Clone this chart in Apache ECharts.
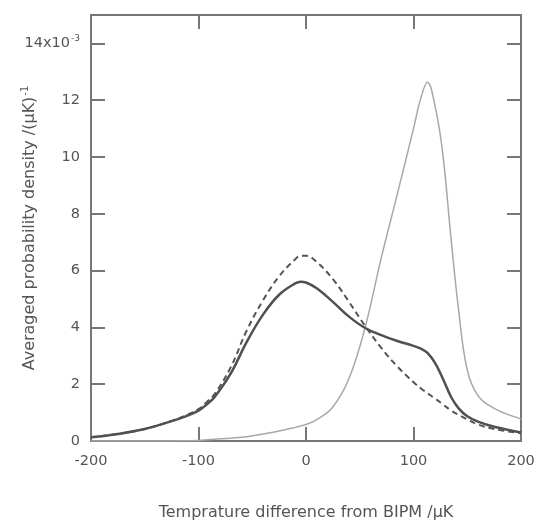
<!DOCTYPE html>
<html>
<head>
<meta charset="utf-8">
<script src="https://cdn.jsdelivr.net/npm/echarts@6/dist/echarts.min.js"></script>
<style>
  html, body { margin: 0; padding: 0; background: #fff; }
  #chart { width: 536px; height: 523px; }
</style>
</head>
<body>
<div id="chart"></div>
<script>
// temperature difference from BIPM (uK)
const tempX = [-200, -175, -150, -125, -112, -100, -92, -85, -70, -55, -40, -25, -10, -5, 0, 10, 25, 40, 55, 70, 85, 100, 107, 113, 120, 127, 135, 142, 150, 160, 175, 200];
// averaged density (x1e-3), solid dark curve
const solidY = [0.13, 0.25, 0.42, 0.7, 0.87, 1.07, 1.3, 1.55, 2.38, 3.5, 4.45, 5.15, 5.55, 5.61, 5.58, 5.38, 4.9, 4.38, 3.98, 3.73, 3.52, 3.35, 3.25, 3.1, 2.75, 2.22, 1.55, 1.15, 0.87, 0.68, 0.5, 0.3];
// dashed curve
const dashedY = [0.13, 0.25, 0.42, 0.71, 0.9, 1.12, 1.38, 1.65, 2.6, 3.9, 4.95, 5.8, 6.4, 6.52, 6.52, 6.3, 5.7, 4.9, 4.05, 3.28, 2.62, 2.07, 1.85, 1.68, 1.5, 1.3, 1.07, 0.92, 0.76, 0.58, 0.42, 0.28];
// thin light curve
const thinY = [0.0, 0.0, 0.0, 0.0, 0.01, 0.02, 0.04, 0.06, 0.1, 0.15, 0.25, 0.35, 0.48, 0.53, 0.58, 0.75, 1.2, 2.2, 4.0, 6.45, 8.7, 11.0, 12.1, 12.63, 11.8, 10.2, 7.1, 4.6, 2.5, 1.6, 1.15, 0.78];

const pairs = ys => tempX.map((x, i) => [x, ys[i]]);

const font = 'DejaVu Sans, sans-serif';
const axisColor = '#777';
const textColor = '#555';

const chart = echarts.init(document.getElementById('chart'));

chart.setOption({
  backgroundColor: '#fff',
  animation: false,
  grid: { left: 91, right: 15, top: 15, bottom: 82, outerBoundsMode: 'none', containLabel: false },
  xAxis: [
    {
      type: 'value', min: -200, max: 200, interval: 100,
      name: 'Temprature difference from BIPM /μK',
      nameLocation: 'middle', nameGap: 64, nameMoveOverlap: false,
      nameTextStyle: { color: textColor, fontSize: 16, fontFamily: font },
      axisLine: { onZero: false, lineStyle: { color: axisColor, width: 2 } },
      axisTick: { inside: true, length: 14, lineStyle: { color: axisColor, width: 2 } },
      axisLabel: { color: textColor, fontSize: 14.5, fontFamily: font, margin: 13 },
      splitLine: { show: false }
    },
    {
      type: 'value', min: -200, max: 200, interval: 100, position: 'top',
      axisLine: { show: true, onZero: false, lineStyle: { color: axisColor, width: 2 } },
      axisTick: { inside: true, length: 14, lineStyle: { color: axisColor, width: 2 } },
      axisLabel: { show: false },
      splitLine: { show: false }
    }
  ],
  yAxis: [
    {
      type: 'value', min: 0, max: 15, interval: 2,
      name: '{a|Averaged probability density /(μK)}{s|-1}',
      nameLocation: 'middle', nameGap: 52, nameRotate: 90, nameMoveOverlap: false,
      nameTextStyle: {
        color: textColor, fontSize: 16, fontFamily: font,
        rich: {
          a: { color: textColor, fontSize: 16, fontFamily: font },
          s: { color: textColor, fontSize: 10, fontFamily: font, padding: [0, 0, 9, 1] }
        }
      },
      axisLine: { onZero: false, lineStyle: { color: axisColor, width: 2 } },
      axisTick: { inside: true, length: 14, lineStyle: { color: axisColor, width: 2 } },
      axisLabel: {
        color: textColor, fontSize: 14.5, fontFamily: font, margin: 11,
        showMaxLabel: false,
        formatter: v => v === 14 ? '{n|14x10}{s|-3}' : String(v),
        rich: {
          n: { color: textColor, fontSize: 14.5, fontFamily: font },
          s: { color: textColor, fontSize: 9, fontFamily: font, padding: [0, 0, 9, 1] }
        }
      },
      splitLine: { show: false }
    },
    {
      type: 'value', min: 0, max: 15, interval: 2, position: 'right',
      axisLine: { show: true, onZero: false, lineStyle: { color: axisColor, width: 2 } },
      axisTick: { inside: true, length: 14, lineStyle: { color: axisColor, width: 2 } },
      axisLabel: { show: false },
      splitLine: { show: false }
    }
  ],
  series: [
    {
      type: 'line', data: pairs(thinY), smooth: 0.4, symbol: 'none',
      lineStyle: { color: '#a8a8a8', width: 1.5 }
    },
    {
      type: 'line', data: pairs(dashedY), smooth: 0.4, symbol: 'none',
      lineStyle: { color: '#555', width: 2, type: [6, 4] }
    },
    {
      type: 'line', data: pairs(solidY), smooth: 0.4, symbol: 'none',
      lineStyle: { color: '#505050', width: 2.5 }
    }
  ]
});
</script>
</body>
</html>
